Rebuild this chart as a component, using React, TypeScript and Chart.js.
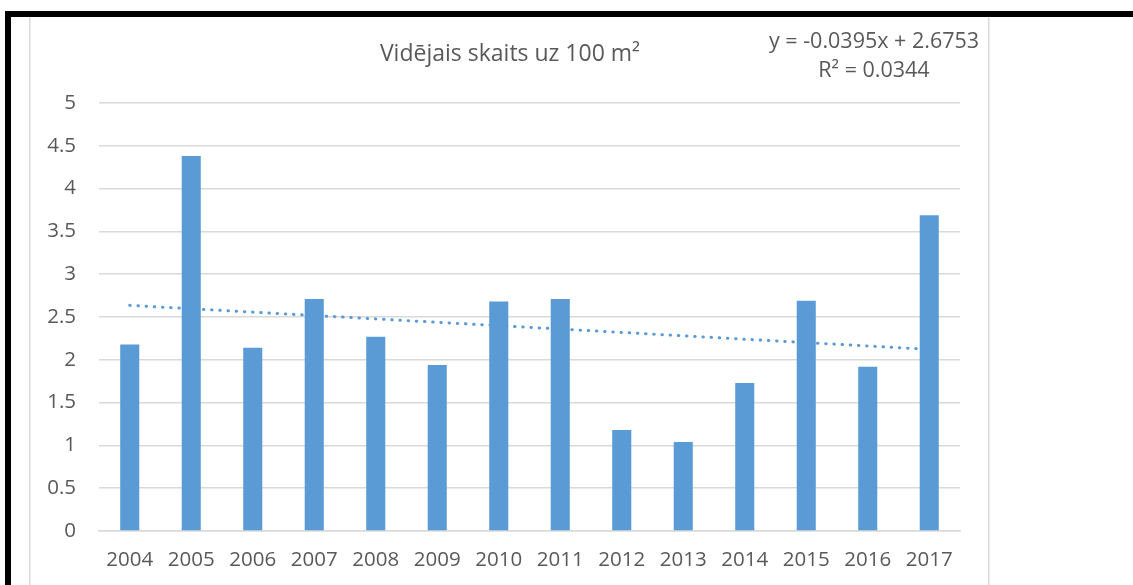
import React, { useEffect, useRef } from "react";
import { Chart, registerables } from "chart.js";

Chart.register(...registerables);

const years = ["2004", "2005", "2006", "2007", "2008", "2009", "2010", "2011", "2012", "2013", "2014", "2015", "2016", "2017"];
const averages = [2.18, 4.38, 2.14, 2.71, 2.27, 1.94, 2.68, 2.71, 1.18, 1.04, 1.73, 2.69, 1.92, 3.69];
const trendValues = [2.636, null, null, null, null, null, null, null, null, null, null, null, null, 2.122];
const titleText = "Vidējais skaits uz 100 m²";
const equationLines = ["y = -0.0395x + 2.6753", "R² = 0.0344"];

const FONT = "'Open Sans', sans-serif";
const TEXT = "#595959";
const BLUE = "#5B9BD5";
const GRID = "#d9d9d9";

const framePlugin = {
  id: "frame",
  beforeDraw(chart: any) {
    const ctx = chart.ctx;
    ctx.save();
    ctx.fillStyle = "#ffffff";
    ctx.fillRect(0, 0, chart.width, chart.height);
    ctx.fillStyle = "#000000";
    ctx.fillRect(5, 11, chart.width - 5, 6);
    ctx.fillRect(5, 11, 6, chart.height - 11);
    ctx.strokeStyle = "#d9d9d9";
    ctx.lineWidth = 1.5;
    ctx.beginPath();
    ctx.moveTo(29.75, 17);
    ctx.lineTo(29.75, chart.height);
    ctx.moveTo(988.75, 17);
    ctx.lineTo(988.75, chart.height);
    ctx.stroke();
    ctx.restore();
  },
  afterDraw(chart: any) {
    const ctx = chart.ctx;
    ctx.save();
    ctx.fillStyle = TEXT;
    ctx.textAlign = "center";
    ctx.textBaseline = "middle";
    ctx.font = `23px ${FONT}`;
    ctx.fillText(titleText, 510, 54);
    ctx.font = `21.5px ${FONT}`;
    ctx.fillText(equationLines[0], 874, 42);
    ctx.fillText(equationLines[1], 874, 71);
    ctx.restore();
  },
};

export default function App() {
  const ref = useRef<HTMLCanvasElement>(null);
  useEffect(() => {
    const chart = new Chart(ref.current as HTMLCanvasElement, {
      type: "bar",
      data: {
        labels: years,
        datasets: [
          {
            type: "line",
            label: "trend",
            data: trendValues as any,
            spanGaps: true,
            borderColor: BLUE,
            borderWidth: 3,
            borderDash: [0.5, 7.7],
            borderCapStyle: "round",
            pointRadius: 0,
            fill: false,
            order: 0,
          } as any,
          {
            type: "bar",
            label: "Vidējais skaits",
            data: averages,
            backgroundColor: BLUE,
            borderWidth: 0,
            barPercentage: 0.31,
            categoryPercentage: 1,
            order: 1,
          },
        ],
      },
      options: {
        animation: false,
        responsive: false,
        devicePixelRatio: 1,
        layout: { padding: { left: 39, right: 173, top: 103, bottom: 14 } },
        plugins: {
          legend: { display: false },
          tooltip: { enabled: false },
          title: { display: false },
        },
        scales: {
          x: {
            grid: { display: false, drawTicks: false },
            border: { display: true, color: GRID, width: 1.5 },
            ticks: { color: TEXT, font: { family: FONT, size: 20.5 }, padding: 17, maxRotation: 0, autoSkip: false },
            afterFit: (s: any) => { s.height = 40; },
          },
          y: {
            min: 0,
            max: 5,
            grid: { color: GRID, lineWidth: 1.5, drawTicks: false },
            border: { display: false },
            ticks: {
              stepSize: 0.5,
              color: TEXT,
              font: { family: FONT, size: 20.5 },
              padding: 23,
              callback: (v: any) => String(Number(v)),
            },
            afterFit: (s: any) => { s.width = 60; },
          },
        },
      },
      plugins: [framePlugin],
    });
    return () => chart.destroy();
  }, []);
  return (
    <canvas
      ref={ref}
      width={1133}
      height={585}
      style={{ position: "fixed", left: 0, top: 0, width: 1133, height: 585, display: "block" }}
    />
  );
}
